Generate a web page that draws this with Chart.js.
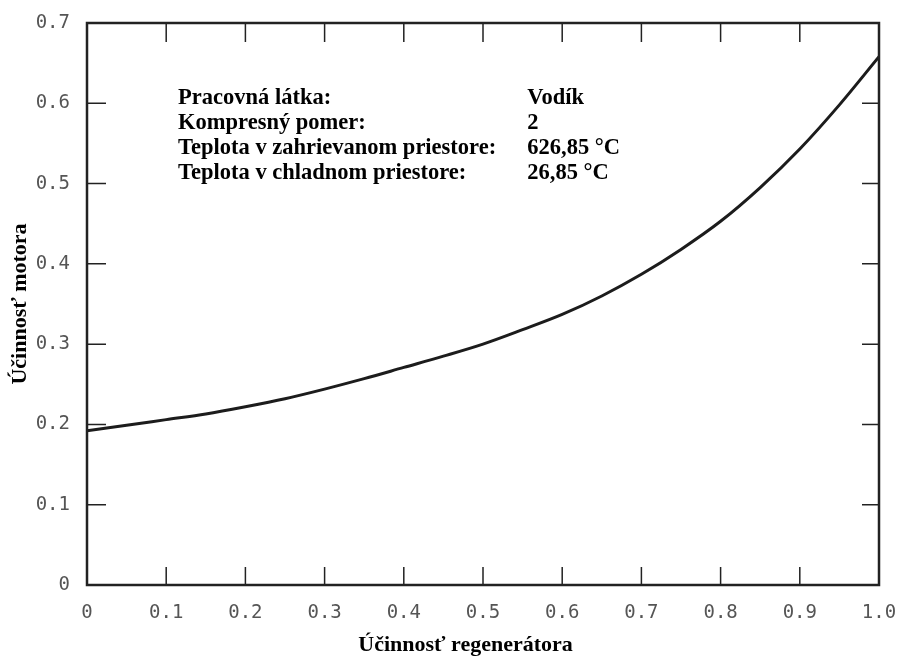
<!DOCTYPE html>
<html>
<head>
<meta charset="utf-8">
<script src="https://cdn.jsdelivr.net/npm/chart.js@4.4.1/dist/chart.umd.min.js"></script>
<style>
  html, body { margin: 0; padding: 0; background: #fff; }
  #wrap { width: 902px; height: 657px; }
</style>
</head>
<body>
<div id="wrap"><canvas id="chart" width="902" height="657"></canvas></div>
<script>
// Údaje odčítané z grafu
const regenEff = [0, 0.05, 0.1, 0.15, 0.2, 0.25, 0.3, 0.35, 0.4, 0.45, 0.5,
  0.55, 0.6, 0.65, 0.7, 0.75, 0.8, 0.85, 0.9, 0.95, 1.0];
const motorEff = [0.192, 0.199, 0.206, 0.213, 0.222, 0.232, 0.244, 0.257, 0.271, 0.285, 0.300,
  0.318, 0.337, 0.360, 0.387, 0.418, 0.453, 0.495, 0.543, 0.598, 0.658];
const xTickLabels = ["0", "0.1", "0.2", "0.3", "0.4", "0.5", "0.6", "0.7", "0.8", "0.9", "1.0"];
const yTickLabels = ["0", "0.1", "0.2", "0.3", "0.4", "0.5", "0.6", "0.7"];
const noteLabels = ["Pracovná látka:", "Kompresný pomer:", "Teplota v zahrievanom priestore:", "Teplota v chladnom priestore:"];
const noteValues = ["Vodík", "2", "626,85 °C", "26,85 °C"];
const xTitle = "Účinnosť regenerátora";
const yTitle = "Účinnosť motora";

const serif = "'Liberation Serif', 'Times New Roman', serif";
const tickFont = { family: "'DejaVu Sans Mono', monospace", size: 19 };

// rám, vnútorné značky, popis osi x a textový popis
const framePlugin = {
  id: "frame",
  afterDatasetsDraw(chart) {
    const { ctx, chartArea: a, scales: { x, y } } = chart;
    ctx.save();
    ctx.strokeStyle = "#222";
    ctx.lineWidth = 1.5;
    ctx.beginPath();
    for (let i = 1; i < xTickLabels.length - 1; i++) {
      const px = x.getPixelForValue(i / 10);
      ctx.moveTo(px, a.bottom); ctx.lineTo(px, a.bottom - 18);
      ctx.moveTo(px, a.top); ctx.lineTo(px, a.top + 19);
    }
    for (let i = 1; i < yTickLabels.length - 1; i++) {
      const py = y.getPixelForValue(i / 10);
      ctx.moveTo(a.left, py); ctx.lineTo(a.left + 19, py);
      ctx.moveTo(a.right, py); ctx.lineTo(a.right - 17, py);
    }
    ctx.stroke();
    ctx.lineWidth = 2.5;
    ctx.strokeRect(a.left, a.top, a.right - a.left, a.bottom - a.top);

    ctx.fillStyle = "#000";
    ctx.textBaseline = "middle";
    ctx.textAlign = "left";
    ctx.font = "bold 22.5px " + serif;
    const x1 = x.getPixelForValue(0.115);
    const x2 = x.getPixelForValue(0.556);
    noteLabels.forEach((t, i) => {
      const py = y.getPixelForValue(0.606 - i * 0.031);
      ctx.fillText(t, x1, py);
      ctx.fillText(noteValues[i], x2, py);
    });

    ctx.font = "bold 22px " + serif;
    ctx.textAlign = "center";
    ctx.fillText(xTitle, x.getPixelForValue(0.478), a.bottom + 60);
    ctx.restore();
  }
};

new Chart(document.getElementById("chart"), {
  type: "line",
  data: {
    datasets: [{
      data: regenEff.map((v, i) => ({ x: v, y: motorEff[i] })),
      borderColor: "#1c1c1c",
      borderWidth: 3,
      pointRadius: 0,
      cubicInterpolationMode: "monotone",
      fill: false
    }]
  },
  options: {
    responsive: false,
    animation: false,
    layout: { padding: { top: 23, right: 23, left: 0, bottom: 0 } },
    plugins: { legend: { display: false }, tooltip: { enabled: false } },
    scales: {
      x: {
        type: "linear",
        min: 0,
        max: 1,
        grid: { display: false },
        border: { display: false },
        ticks: {
          stepSize: 0.1,
          padding: 9,
          color: "#555",
          font: tickFont,
          maxRotation: 0,
          autoSkip: false,
          callback: (v) => xTickLabels[Math.round(v * 10)]
        },
        afterFit: (s) => { s.height = 72; s.paddingRight = 0; s.paddingLeft = 0; }
      },
      y: {
        min: 0,
        max: 0.7,
        grid: { display: false },
        border: { display: false },
        ticks: {
          stepSize: 0.1,
          padding: 9,
          color: "#555",
          font: tickFont,
          autoSkip: false,
          callback: (v) => yTickLabels[Math.round(v * 10)]
        },
        title: {
          display: true,
          text: yTitle,
          color: "#000",
          font: { family: serif, size: 22, weight: "bold" },
          padding: { top: 7, bottom: 0 }
        },
        afterFit: (s) => { s.width = 87; }
      }
    }
  },
  plugins: [framePlugin]
});
</script>
</body>
</html>
